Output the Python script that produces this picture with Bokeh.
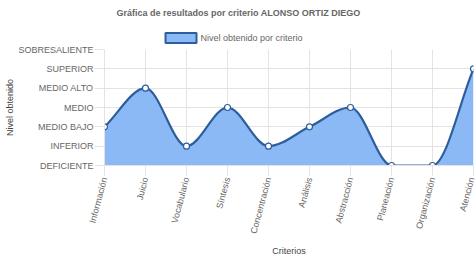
import math
import numpy as np
from bokeh.plotting import figure
from bokeh.layouts import column
from bokeh.models import Range1d, FixedTicker
from bokeh.core.properties import value
from bokeh.embed import file_html
from bokeh.resources import INLINE

title_text = "Gráfica de resultados por criterio ALONSO ORTIZ DIEGO"
series_name = "Nivel obtenido por criterio"
criterios = ["Información", "Juicio", "Vocabulario", "Síntesis", "Concentración",
             "Análisis", "Abstracción", "Planeación", "Organización", "Atención"]
niveles = ["DEFICIENTE", "INFERIOR", "MEDIO BAJO", "MEDIO", "MEDIO ALTO",
           "SUPERIOR", "SOBRESALIENTE"]
valores = [2, 4, 1, 3, 1, 2, 3, 0, 0, 5]

FILL = "#8ab9f5"
LINE = "#2d5e9b"
TXT = "#666666"
GRID = "#e3e3e3"
FONT = "Liberation Sans"

LEFT, RIGHT = 104, 3

xs = np.arange(len(valores), dtype=float)
ys = np.array(valores, dtype=float)

# Monotone cubic control points (Chart.js style)
n = len(xs)
dk = np.diff(ys) / np.diff(xs)
mk = np.zeros(n)
mk[0] = dk[0]
mk[-1] = dk[-1]
for i in range(1, n - 1):
    a, b = dk[i - 1], dk[i]
    if a == 0 or b == 0 or (a > 0) != (b > 0):
        mk[i] = 0
    else:
        mk[i] = (a + b) / 2
for i in range(n - 1):
    if abs(dk[i]) < 1e-12:
        mk[i] = mk[i + 1] = 0
        continue
    al = mk[i] / dk[i]
    be = mk[i + 1] / dk[i]
    t = al * al + be * be
    if t > 9:
        tau = 3 / math.sqrt(t)
        mk[i] = al * tau * dk[i]
        mk[i + 1] = be * tau * dk[i]
x0 = xs[:-1]; x1 = xs[1:]; y0 = ys[:-1]; y1 = ys[1:]
dx = (x1 - x0) / 3
cx0 = x0 + dx; cy0 = y0 + dx * mk[:-1]
cx1 = x1 - dx; cy1 = y1 - dx * mk[1:]

fx, fy = [], []
tt = np.linspace(0, 1, 30)
for i in range(n - 1):
    bx = (1-tt)**3*x0[i] + 3*(1-tt)**2*tt*cx0[i] + 3*(1-tt)*tt**2*cx1[i] + tt**3*x1[i]
    by = (1-tt)**3*y0[i] + 3*(1-tt)**2*tt*cy0[i] + 3*(1-tt)*tt**2*cy1[i] + tt**3*y1[i]
    fx.extend(bx.tolist()); fy.extend(by.tolist())

# ---- header: title + legend (frame aligned with chart frame) ----
HH = 44
h = figure(width=476, height=HH, output_backend="svg", toolbar_location=None,
           x_range=Range1d(LEFT, 476 - RIGHT), y_range=Range1d(HH, 0),
           x_axis_type=None, y_axis_type=None,
           min_border_left=LEFT, min_border_right=RIGHT,
           min_border_top=0, min_border_bottom=0)
h.outline_line_color = None
h.grid.visible = False
h.text(x=[238], y=[12.5], text=[title_text], text_align="center",
       text_baseline="middle", text_font=value(FONT), text_font_size="9px",
       text_font_style="bold", text_color=TXT)
h.quad(left=[165], right=[196], top=[32.5], bottom=[42.5],
       fill_color=FILL, line_color=LINE, line_width=2)
h.text(x=[200], y=[37.5], text=[series_name], text_align="left",
       text_baseline="middle", text_font=value(FONT), text_font_size="9px",
       text_color=TXT)

# ---- chart ----
p = figure(width=476, height=260 - HH, output_backend="svg", toolbar_location=None,
           x_range=Range1d(0, n - 1), y_range=Range1d(0, 6),
           min_border_left=LEFT, min_border_right=RIGHT, min_border_top=49 - HH,
           min_border_bottom=95)
p.outline_line_color = None
p.background_fill_color = "white"

p.varea(x=fx, y1=[0]*len(fx), y2=fy, fill_color=FILL, fill_alpha=1)
p.bezier(x0=x0, y0=y0, x1=x1, y1=y1, cx0=cx0, cy0=cy0, cx1=cx1, cy1=cy1,
         line_color=LINE, line_width=2.2)
p.scatter(xs, ys, size=6, fill_color="white", line_color=LINE, line_width=1.2)

p.xaxis.ticker = FixedTicker(ticks=list(range(n)))
p.xaxis.major_label_overrides = {i: c for i, c in enumerate(criterios)}
p.xaxis.major_label_orientation = math.radians(75)
p.yaxis.ticker = FixedTicker(ticks=list(range(7)))
p.yaxis.major_label_overrides = {i: c for i, c in enumerate(niveles)}
p.xaxis.axis_label = "Criterios"
p.yaxis.axis_label = "Nivel obtenido"
for ax in (p.xaxis, p.yaxis):
    ax.axis_line_color = GRID
    ax.major_tick_line_color = GRID
    ax.major_tick_out = 10
    ax.major_tick_in = 0
    ax.minor_tick_line_color = None
    ax.major_label_text_font = FONT
    ax.major_label_text_font_size = "9px"
    ax.major_label_text_color = TXT
    ax.axis_label_text_font = FONT
    ax.axis_label_text_font_size = "9px"
    ax.axis_label_text_font_style = "normal"
    ax.axis_label_text_color = "#444444"
p.xaxis.major_label_standoff = 2
p.yaxis.major_label_standoff = 1
p.xaxis.axis_label_standoff = 7
p.yaxis.axis_label_standoff = 0
p.grid.grid_line_color = GRID

layout = column(h, p, spacing=0)
open("out.html", "w").write(file_html(layout, INLINE))
